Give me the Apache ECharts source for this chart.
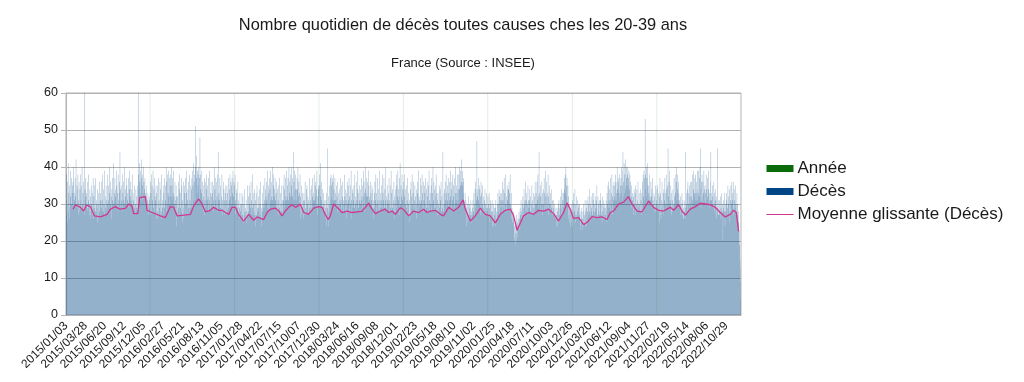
<!DOCTYPE html>
<html><head><meta charset="utf-8">
<script src="https://cdn.jsdelivr.net/npm/echarts@6/dist/echarts.min.js"></script>
<style>html,body{margin:0;padding:0;background:#fff}#c{width:1024px;height:382px}</style>
</head><body><div id="c"></div>
<script>
// ---- data ----
const startDate = [2015, 1, 3];
const dayCount = 2920;
const labelStep = 84;
const deces2015 = [
34,22,38,27,19,31,36,25,17,30,41,28,23,33,26,20,35,29,24,39,27,32,18,30,26,37,21,33,28,35,
25,36,22,40,29,18,33,27,31,24,37,20,32,28,42,26,30,23,35,29,19,34,38,27,22,31,25,36,30,28,
23,34,20,31,38,26,29,17,35,27,40,22,30,25,33,28,19,36,24,31,60,27,21,34,29,37,24,32,18,30,
33,22,29,25,36,19,28,31,24,38,21,27,30,17,34,26,23,32,28,20,35,25,30,18,27,33,24,29,37,22,
26,32,20,29,16,35,24,28,22,37,19,27,31,23,30,18,34,25,21,29,33,26,17,30,24,36,21,28,25,31,
20,33,27,36,23,29,18,31,26,38,22,28,25,34,19,30,27,24,39,21,32,26,29,17,35,28,23,31,25,30,
27,38,22,31,25,35,29,19,33,27,40,24,30,21,36,28,32,26,18,34,29,37,23,31,27,41,25,30,20,33,
31,23,37,28,34,19,32,27,39,25,30,35,22,29,33,26,38,24,31,28,20,36,27,33,44,29,25,34,30,22,
35,26,31,20,38,28,24,33,29,36,22,31,27,40,25,30,18,34,28,32,23,37,26,29,35,21,31,27,33,29,
26,37,30,23,34,29,39,25,32,28,36,21,31,27,34,24,30,38,26,29,22,33,27,31,20,28,35,25,29,24,
30,22,27,34,19,29,25,32,21,28,26,35,23,60,30,38,27,34,41,29,36,31,26,39,33,28,37,30,42,32,
35,27,38,31,29,40,33,26,36,30,34,28,37,32,25,30,33,24,29,27,35,22,31,26,28,33,21,30,27,25,32,29,24];
const deces2016 = [
31,21,36,27,18,33,24,38,20,28,35,17,31,25,39,22,29,19,34,27,37,16,28,32,24,31,20,35,26,23,
33,22,28,17,35,26,20,37,27,15,31,24,29,19,36,22,27,34,18,28,24,38,21,26,31,16,29,23,35,27,
20,33,25,37,23,29,18,35,27,31,24,40,28,21,36,30,25,38,29,33,22,39,28,32,25,37,30,20,35,29,
38,26,32,22,40,29,35,20,31,37,25,33,28,39,19,32,27,30,22,36,25,31,18,28,35,24,20,32,27,23,
32,19,28,36,22,29,17,34,25,38,21,27,33,18,29,24,37,20,28,35,25,16,31,27,23,36,29,19,26,33,
22,35,27,18,37,25,30,20,33,28,39,21,27,31,17,34,26,36,24,29,19,38,28,22,31,27,35,20,29,25,
34,24,37,29,21,39,30,35,26,41,31,23,36,29,38,31,27,51,34,40,26,37,30,43,28,35,39,25,33,38,
35,28,40,26,37,31,22,48,30,38,27,34,23,33,29,39,21,31,26,36,24,32,28,20,35,29,37,23,27,31,
25,36,29,19,34,27,38,22,31,28,35,17,32,25,37,28,21,31,27,39,23,29,33,20,28,36,25,32,22,30,
33,23,36,28,19,35,27,31,22,40,29,25,34,21,37,28,31,18,29,36,26,32,24,38,28,20,44,31,26,33,
22,31,27,37,20,29,25,35,18,32,28,23,38,27,21,31,29,19,36,25,28,34,22,31,27,17,33,28,24,35,
27,20,31,24,35,28,22,33,18,29,26,37,25,31,21,34,28,38,24,32,29,36,26,35,30,22,37,28,33,25,39,29,32,26,36,30];
const deces2017 = [
35,24,30,38,21,31,27,19,34,28,23,33,18,29,25,36,21,27,17,31,24,29,16,26,33,21,28,23,30,20,
30,19,26,33,16,27,23,32,20,25,14,30,27,21,34,18,28,23,29,15,26,31,20,25,28,19,35,23,27,21,
32,22,28,18,35,26,30,21,33,24,29,16,36,27,22,31,19,29,25,38,21,27,30,17,33,24,28,34,22,27,
21,31,24,17,33,27,20,26,35,22,29,15,28,24,32,18,29,23,34,26,16,30,21,27,36,24,19,29,26,22,
28,19,33,24,30,22,35,26,29,18,31,27,37,24,30,34,25,32,22,36,28,31,25,39,29,26,33,21,35,28,
24,37,29,21,34,28,39,23,31,26,36,20,32,29,40,25,31,22,35,28,38,26,32,19,34,29,37,26,31,23,
33,23,29,36,20,28,25,34,17,31,27,23,35,19,29,26,37,22,28,25,33,16,30,27,35,23,28,20,31,25,
27,35,23,31,26,38,29,21,34,27,31,37,24,32,29,39,23,31,28,35,19,32,37,26,31,29,40,24,33,29,
36,26,32,23,38,29,35,27,40,22,32,26,37,29,33,44,24,31,36,27,39,31,23,34,29,38,25,31,34,27,
31,37,25,34,29,40,24,32,27,36,30,23,33,28,38,26,22,32,27,24,35,21,29,26,33,23,28,19,31,26,
24,33,28,19,31,25,36,22,29,27,17,34,25,28,35,21,30,24,32,27,18,31,28,22,37,25,29,20,27,31,
24,34,28,21,35,29,26,37,23,32,28,31,20,33,29,38,26,31,23,35,27,32,36,24,29,34,26,39,30,27,21,32,29,35,26];
const deces2018 = [
34,25,38,29,22,35,30,41,24,32,27,36,21,31,28,25,34,19,29,24,33,20,30,23,28,18,31,22,26,29,
21,31,24,17,33,26,20,29,23,45,28,19,32,24,22,30,25,35,28,26,37,31,27,38,32,25,35,29,37,31,
26,36,31,23,38,29,34,27,31,24,37,27,33,21,31,26,35,29,19,32,28,24,36,26,30,21,33,28,23,31,
34,22,30,26,37,20,31,28,24,35,18,29,32,25,36,23,28,31,19,30,25,38,26,32,22,28,34,24,31,26,
23,33,27,36,19,30,26,35,24,31,22,37,28,18,32,26,30,23,35,28,39,20,31,26,24,34,29,21,33,27,
31,24,35,21,29,28,38,19,32,26,30,23,36,28,20,31,26,34,24,39,22,29,27,33,18,31,26,35,23,30,
26,34,23,31,28,37,22,32,29,24,35,30,27,39,25,32,36,28,23,33,30,40,27,34,29,32,25,37,30,33,
36,27,32,24,39,30,28,35,25,32,23,31,27,36,20,29,33,24,31,26,35,21,29,27,34,23,31,26,19,29,
33,24,29,36,21,31,26,38,23,28,33,19,30,26,37,24,31,28,20,34,26,29,39,23,28,31,21,33,26,29,
26,35,23,31,28,38,20,29,33,24,31,26,37,22,29,28,34,23,31,26,40,24,29,32,20,28,35,26,31,24,
30,22,33,26,37,19,28,31,24,35,23,29,27,39,22,28,33,20,29,26,34,24,31,18,28,36,26,23,30,32,
25,34,28,21,31,38,26,29,35,23,32,28,39,26,31,22,34,29,37,27,24,32,41,29,30,25,35,23,32,29,38,27,31,24,34];
const deces2019 = [
33,24,36,28,19,32,26,38,22,30,25,34,18,29,27,35,21,31,24,28,37,20,30,26,33,23,27,17,31,25,
22,34,27,19,36,29,24,32,20,38,27,30,23,33,25,36,28,21,31,26,29,35,24,28,32,19,30,27,34,26,
25,33,21,36,28,27,39,23,30,32,18,31,29,24,37,26,30,22,35,28,31,20,38,27,29,33,23,28,36,25,
31,22,35,26,33,19,28,37,24,30,34,21,29,27,36,18,32,28,23,35,29,24,39,26,28,31,20,33,25,30,
26,35,28,21,37,30,24,33,27,40,22,31,26,36,29,20,34,28,18,32,35,25,29,38,23,28,33,22,31,27,
21,33,27,17,30,25,35,22,29,24,34,19,31,27,36,23,28,20,32,26,29,22,44,30,24,28,18,33,25,34,
30,25,36,22,31,27,38,24,33,29,20,35,28,31,26,37,29,23,33,27,36,24,31,29,39,26,32,28,21,34,
27,36,24,31,29,38,22,32,28,35,25,30,37,23,29,33,27,40,25,31,22,35,29,33,26,38,25,30,34,27,
31,38,27,34,28,40,30,35,27,39,31,36,32,42,28,35,31,39,29,36,26,33,37,28,31,24,30,22,33,26,
28,20,31,24,18,29,23,27,16,30,25,21,32,19,27,24,30,20,26,29,15,27,23,31,21,25,28,19,27,23,
29,22,31,20,28,25,33,21,27,30,23,34,26,29,36,24,31,27,33,47,26,34,23,32,29,37,25,31,28,35,
30,24,34,27,21,32,26,36,28,23,33,20,30,26,35,22,29,25,32,27,19,31,28,23,34,27,24,30,21,29,26,33,22,28,25];
const deces2020 = [
29,22,32,24,30,20,27,33,21,29,25,19,31,27,22,30,18,26,28,21,31,24,17,28,26,20,30,19,24,29,
21,27,18,29,24,20,31,22,26,16,28,24,30,21,27,33,23,28,30,25,34,27,22,32,29,24,33,26,31,23,
29,33,25,31,22,36,28,26,34,29,21,31,37,25,28,33,22,30,27,38,24,30,32,20,28,35,26,31,28,34,
25,34,28,36,30,22,33,27,38,24,30,28,21,33,26,22,29,24,27,20,25,23,28,18,26,21,17,24,20,16,
25,19,16,22,18,27,20,14,23,25,17,21,26,15,24,22,28,18,23,26,20,29,22,27,24,31,21,28,25,23,
30,23,27,32,21,29,26,24,34,26,30,21,31,27,36,22,28,31,25,33,28,19,30,26,27,35,22,31,26,29,
23,31,26,34,20,28,25,32,27,18,30,24,35,27,21,31,29,22,27,33,19,29,26,32,23,28,36,25,30,27,
33,25,30,27,36,22,31,28,38,24,32,29,21,44,27,33,24,30,35,28,20,32,28,30,25,36,27,22,33,30,
27,34,24,30,21,37,28,25,33,28,39,29,23,32,28,20,36,30,27,33,24,29,38,27,21,32,28,30,25,35,
28,21,33,25,30,19,29,26,34,22,28,31,18,27,29,23,31,17,27,24,30,20,27,16,26,22,29,24,18,27,
22,29,24,17,28,21,30,19,25,31,20,27,24,29,21,32,25,30,27,22,29,34,26,31,28,23,33,29,25,31,
33,27,37,29,34,31,38,26,33,40,29,35,27,32,37,25,30,28,35,24,26,32,27,21,30,25,22,29,24,19,28,23,30,25,20,28];
const deces2021 = [
28,21,31,24,19,33,26,17,30,23,28,20,34,25,22,30,18,27,26,21,32,23,28,16,31,26,20,29,23,30,
21,27,19,30,17,25,23,15,28,20,26,18,29,23,14,26,21,28,17,24,30,20,25,16,27,22,31,19,24,28,
22,29,24,17,31,26,21,28,19,32,24,27,30,20,28,23,34,25,21,30,27,22,32,25,29,20,28,33,23,27,
24,31,20,28,33,23,26,30,18,28,25,32,21,29,23,31,26,35,20,27,26,22,32,28,19,30,25,27,22,31,
28,20,31,25,33,22,27,17,30,25,21,32,20,28,26,16,31,23,29,19,26,30,18,27,24,29,20,31,25,22,
28,33,24,30,21,35,27,29,36,23,31,26,34,29,22,31,37,25,28,33,22,30,38,27,25,32,29,35,26,31,
28,36,26,32,23,35,29,38,31,25,36,28,33,24,31,40,27,34,26,37,30,36,28,33,31,25,38,32,27,35,
29,37,26,33,40,28,35,24,31,39,44,28,36,32,25,41,33,29,38,30,35,42,27,34,37,30,40,35,28,38,
33,40,29,37,27,35,39,28,34,25,38,30,27,36,22,32,29,26,35,23,31,24,33,29,20,32,27,24,34,26,
30,23,33,27,24,35,20,30,28,22,34,26,31,19,28,36,25,30,21,29,33,24,30,18,28,26,34,21,31,27,
25,33,28,22,36,30,24,38,27,32,29,39,31,26,37,33,53,28,38,30,34,40,32,27,37,29,35,41,31,28,
35,27,33,31,24,38,28,32,23,31,29,36,25,32,22,34,29,26,37,23,31,27,30,21,33,28,24,32,29,20,28,35,25,30,27];
const deces2022 = [
31,24,34,21,29,35,26,30,19,28,33,25,22,32,28,37,20,27,33,26,21,31,29,23,36,25,30,28,20,33,
27,24,34,20,31,28,37,23,30,19,33,27,38,25,29,34,21,35,27,30,45,24,32,28,36,30,22,39,27,31,
30,23,35,28,19,33,27,24,31,20,28,34,25,30,21,29,37,26,32,28,30,38,24,33,29,36,27,40,30,31,
34,28,38,25,31,36,27,33,25,31,22,29,19,32,27,23,30,20,28,24,33,22,27,18,31,26,21,29,17,26,
28,22,31,26,20,44,25,29,21,33,27,30,28,22,34,27,36,24,30,28,33,21,29,35,26,32,24,30,36,27,
32,27,36,29,22,38,30,31,25,34,29,39,32,26,33,28,37,31,24,38,30,33,27,36,31,26,34,39,31,28,
33,30,39,27,32,25,37,31,40,27,45,34,29,24,36,31,28,38,32,23,30,36,27,33,31,39,25,34,29,31,
35,28,33,24,30,38,27,34,31,23,37,28,32,22,34,29,39,31,25,33,29,22,31,26,36,44,28,33,25,31,
30,24,35,26,32,20,29,27,36,23,30,33,21,28,34,24,31,20,27,32,26,19,29,28,22,45,25,31,18,27,
27,22,31,20,28,26,18,32,23,29,21,27,33,18,28,24,30,20,16,29,26,31,19,28,22,33,24,19,30,25,
28,21,31,24,33,17,27,29,22,35,20,30,26,32,23,28,34,25,20,31,27,24,35,21,30,27,36,23,31,28,
33,27,24,36,29,21,34,28,25,31,20,35,29,22,30,26,28,21,33,27,19,30,22,26,28,18,25,21,23,17,19,15,13,9,4];
const anneeDates = ['2016/01/01','2017/01/01','2018/01/01','2019/01/01','2020/01/01','2021/01/01','2022/01/01'];
const anneeValues = [2016,2017,2018,2019,2020,2021,2022];
// moving average: day number since 2015/01/03, value
const maDayIndex = [30,40,62,76,88,105,122,148,177,192,213,232,256,271,285,292,310,318,343,350,372,408,429,451,465,480,509,538,552,573,588,602,624,638,660,675,689,703,718,732,746,768,790,797,811,826,833,855,869,884,905,920,934,948,963,977,992,1003,1013,1028,1049,1071,1092,1107,1121,1133,1143,1157,1172,1194,1215,1237,1259,1280,1294,1309,1323,1338,1359,1381,1395,1410,1424,1446,1460,1482,1503,1525,1547,1561,1576,1597,1619,1633,1655,1676,1698,1717,1727,1749,1770,1792,1813,1835,1857,1878,1900,1922,1936,1951,1965,1979,2001,2022,2044,2066,2087,2109,2130,2152,2167,2181,2195,2217,2239,2260,2275,2297,2318,2340,2354,2368,2390,2412,2432,2448,2470,2491,2520,2541,2563,2585,2599,2614,2628,2650,2664,2679,2700,2722,2743,2765,2787,2808,2830,2851,2873,2887,2899,2909];
const maValue = [28.6,29.8,29.1,28.1,29.7,29.3,26.8,26.5,27.2,28.6,29.3,28.6,28.8,30,29.5,27.4,27.4,31.7,32,28.3,27.7,26.8,26.3,29.3,29.1,26.8,27,27.2,29.5,31.4,30,27.9,28.3,29.1,28.3,28.3,27.7,27.2,29.1,29.1,27.2,25.4,27.2,27.4,25.6,26.5,26.3,25.8,27.7,28.6,28.9,28.1,26.8,28.1,29.1,29.8,29.1,29.5,30,27.7,27.2,28.9,29.3,29.1,27.2,25.8,26.8,30,29.1,27.7,28.1,27.7,27.9,28,29.1,30.2,28.6,27.4,28.1,28.6,27.7,28.1,27.2,29,28.5,26.8,28.1,27.7,28.6,27.7,28.1,28.3,27.2,26.8,29.1,28.1,29.1,31.1,28.6,25.4,26.8,28.9,27.2,26.8,24.9,27.2,28.3,28.6,26.8,22.9,24.9,26.8,27.7,27.2,28.3,28.1,28.6,27.4,25.4,27.7,30.3,28.6,26.1,26.3,24.4,25.4,26.6,26.3,26.5,25.8,27.7,28.1,30,30.5,32,30,28.1,27.9,30.8,29.1,28.3,28.1,28.6,29.1,28.3,29.8,28.1,27,28.6,29.3,30.2,30,29.8,29.1,27.7,26.5,27.2,28.3,27.7,22.6];

// ---- build ----
const pad = n => (n < 10 ? '0' : '') + n;
const categories = [];
const t0 = Date.UTC(startDate[0], startDate[1] - 1, startDate[2]);
for (let i = 0; i < dayCount; i++) {
  const d = new Date(t0 + i * 86400000);
  categories.push(d.getUTCFullYear() + '/' + pad(d.getUTCMonth() + 1) + '/' + pad(d.getUTCDate()));
}
const deces = [].concat(deces2015, deces2016, deces2017, deces2018, deces2019, deces2020, deces2021, deces2022);
const annee = new Array(dayCount).fill(null);
anneeDates.forEach((d, k) => { const i = categories.indexOf(d); if (i >= 0) annee[i] = anneeValues[k]; });
const ma = new Array(dayCount).fill(null);
maDayIndex.forEach((i, k) => { ma[i] = maValue[k]; });

const FF = 'Liberation Sans';
const MA_COLOR = '#d2378f';
const chart = echarts.init(document.getElementById('c'), null, {renderer: 'canvas'});
chart.setOption({
  animation: false,
  backgroundColor: '#fff',
  title: [
    {text: 'Nombre quotidien de décès toutes causes ches les 20-39 ans', left: 463, top: 17, padding: 0, textAlign: 'center',
     textStyle: {fontFamily: FF, fontSize: 16.4, fontWeight: 'normal', color: '#1a1a1a'}},
    {text: 'France (Source : INSEE)', left: 463, top: 57, padding: 0, textAlign: 'center',
     textStyle: {fontFamily: FF, fontSize: 13, fontWeight: 'normal', color: '#1a1a1a'}}
  ],
  legend: {
    orient: 'vertical', left: 766, top: 160, padding: 0, itemWidth: 27, itemHeight: 7, itemGap: 6,
    textStyle: {fontFamily: FF, fontSize: 17, color: '#1a1a1a', lineHeight: 17, padding: [0, 0, 0, -1]},
    data: [
      {name: 'Année', icon: 'rect', itemStyle: {color: '#0b6b0b', opacity: 1}},
      {name: 'Décès', icon: 'rect', itemStyle: {color: '#004586', opacity: 1}},
      {name: 'Moyenne glissante (Décès)', itemStyle: {opacity: 0}, lineStyle: {width: 1, color: MA_COLOR}}
    ]
  },
  grid: {left: 66, top: 93, width: 675, height: 222, show: true, borderColor: '#b3b3b3', borderWidth: 1},
  xAxis: {
    type: 'category', data: categories, boundaryGap: true,
    axisLine: {lineStyle: {color: '#b3b3b3'}},
    axisTick: {interval: 9, length: 6, lineStyle: {color: '#b3b3b3'}},
    axisLabel: {interval: labelStep - 1, rotate: 45, fontFamily: FF, fontSize: 12, color: '#1a1a1a', margin: 9}
  },
  yAxis: {
    type: 'value', min: 0, max: 60, interval: 10,
    axisLine: {show: true, lineStyle: {color: '#b3b3b3'}},
    axisTick: {show: true, length: 5, lineStyle: {color: '#b3b3b3'}},
    axisLabel: {fontFamily: FF, fontSize: 12.5, color: '#1a1a1a', margin: 8},
    splitLine: {lineStyle: {color: '#b3b3b3'}}
  },
  series: [
    {name: 'Décès', type: 'bar', data: deces, large: true, largeThreshold: 400, progressive: 0,
     barCategoryGap: '0%', itemStyle: {color: 'rgba(0,69,134,0.42)'}},
    {name: 'Année', type: 'bar', data: annee, barGap: '-100%', barCategoryGap: '0%', clip: true,
     itemStyle: {color: 'rgba(30,120,30,0.13)'}},
    {name: 'Moyenne glissante (Décès)', type: 'line', data: ma, connectNulls: true, symbol: 'none',
     lineStyle: {color: MA_COLOR, width: 1.3}, itemStyle: {color: MA_COLOR}, z: 5}
  ]
});
</script></body></html>
